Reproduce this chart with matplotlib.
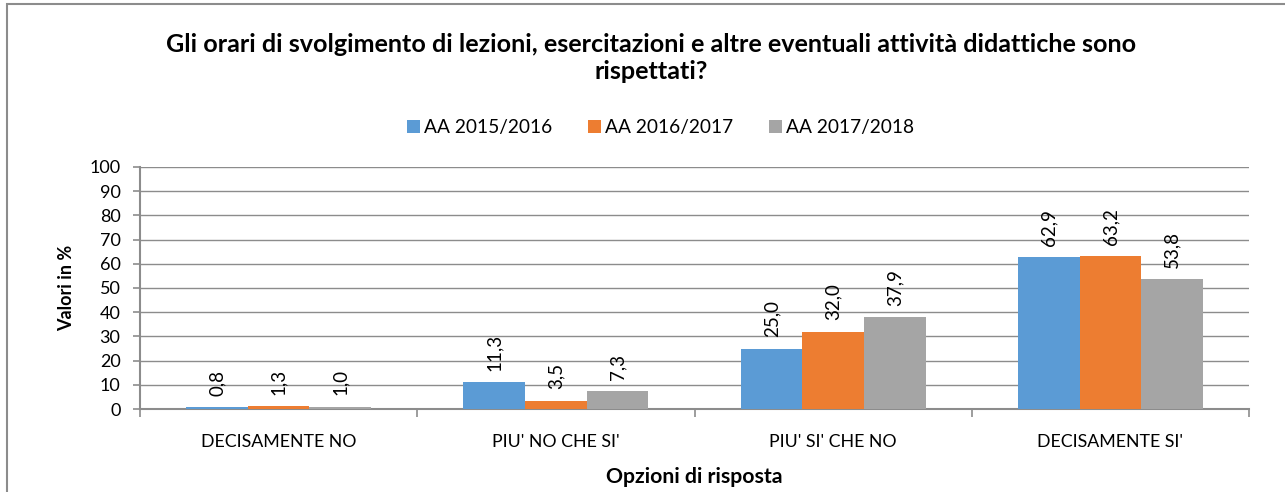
import matplotlib
matplotlib.use("Agg")
import matplotlib.pyplot as plt
from matplotlib.patches import Rectangle
import numpy as np

plt.rcParams['font.family'] = ['Lato', 'DejaVu Sans']

categories = ["DECISAMENTE NO", "PIU' NO CHE SI'", "PIU' SI' CHE NO", "DECISAMENTE SI'"]
series_names = ["AA 2015/2016", "AA 2016/2017", "AA 2017/2018"]
v2015 = [0.8, 11.3, 25.0, 62.9]
v2016 = [1.3, 3.5, 32.0, 63.2]
v2017 = [1.0, 7.3, 37.9, 53.8]
colors = ["#5B9BD5", "#ED7D31", "#A5A5A5"]
yticks = list(range(0, 101, 10))

fig = plt.figure(figsize=(12.85, 4.92), dpi=100)
fig.patches.append(Rectangle((7/1285, -0.1), 1.2, 1 - 4/492 + 0.1, transform=fig.transFigure,
                             fill=False, edgecolor="#8c8c8c", linewidth=1.5))
ax = fig.add_axes([140/1285, 1 - 409/492, (1249 - 140)/1285, (409 - 167)/492])

n = len(categories)
x = np.arange(n)
bw = 1 / (3 + 1.5)
for i, (vals, name, c) in enumerate(zip([v2015, v2016, v2017], series_names, colors)):
    pos = x + (i - 1) * bw
    ax.bar(pos, vals, width=bw, color=c, label=name, zorder=3)
    for p, v in zip(pos, vals):
        ax.annotate(f"{v:.1f}".replace(".", ","), (p, v), xytext=(0, 8), textcoords="offset points",
                    rotation=90, ha="center", va="bottom", fontsize=13.5, color="#000000", zorder=4)

ax.set_xlim(-0.5, n - 0.5)
ax.set_ylim(0, 100)
ax.set_yticks(yticks)
ax.set_yticklabels([str(t) for t in yticks], fontsize=13)
ax.yaxis.grid(True, color="#8c8c8c", linewidth=1, zorder=0)
ax.set_axisbelow(True)
ax.set_xticks(x)
ax.set_xticklabels(categories, fontsize=12.8)
ax.tick_params(axis="x", length=0, pad=18)
ax.set_xticks(np.arange(-0.5, n, 1), minor=True)
ax.tick_params(axis="x", which="minor", length=6, color="#8c8c8c", width=1.2)
ax.tick_params(axis="y", length=5, color="#8c8c8c", width=1.2, pad=9)
for s in ["top", "right"]:
    ax.spines[s].set_visible(False)
for s in ["left", "bottom"]:
    ax.spines[s].set_color("#8c8c8c")
    ax.spines[s].set_linewidth(1.5)

ax.set_ylabel("Valori in %", fontsize=13, fontweight="bold", labelpad=10)
ax.set_xlabel("Opzioni di risposta", fontsize=15.3, fontweight="bold", labelpad=12)

fig.text(0.507, 1 - 58/492,
         "Gli orari di svolgimento di lezioni, esercitazioni e altre eventuali attività didattiche sono\nrispettati?",
         ha="center", va="center", fontsize=18.1, fontweight="bold", linespacing=1.2)

ax.legend(loc="center", bbox_to_anchor=(0.514, (492 - 128) / 492), bbox_transform=fig.transFigure,
          ncol=3, frameon=False, fontsize=13.8, handlelength=0.65, handleheight=0.65,
          handletextpad=0.2, columnspacing=1.9)

fig.savefig("out.png", dpi=100)
